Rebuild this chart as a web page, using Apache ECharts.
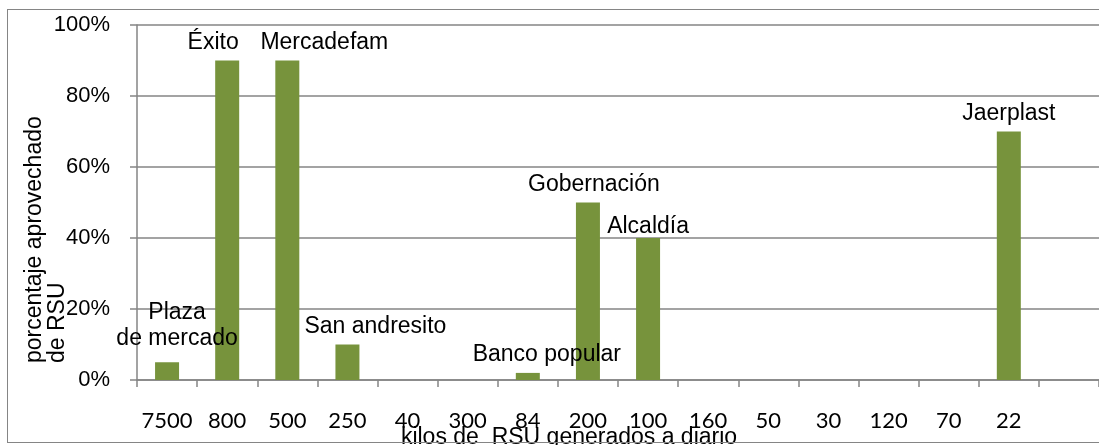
<!DOCTYPE html>
<html>
<head>
<meta charset="utf-8">
<script src="https://cdn.jsdelivr.net/npm/echarts@6/dist/echarts.min.js"></script>
<style>
  html, body { margin: 0; padding: 0; background: #fff; overflow: hidden; }
  #wrap { position: relative; width: 1099px; height: 445px; overflow: hidden; }
  #chart { width: 1099px; height: 445px; }
  /* marco exterior del gráfico; el borde derecho queda fuera de la imagen */
  #frame {
    position: absolute; left: 7px; top: 9px; width: 1200px; height: 432px;
    border: 1.5px solid #858585; pointer-events: none;
  }
</style>
</head>
<body>
<div id="wrap">
  <div id="chart"></div>
  <div id="frame"></div>
</div>
<script>
// kilos de RSU generados a diario (categorías del eje X)
var kilos = ['7500', '800', '500', '250', '40', '300', '84', '200', '100', '160', '50', '30', '120', '70', '22', ''];
// porcentaje aprovechado de RSU
var porcentaje = [0.05, 0.90, 0.90, 0.10, 0, 0, 0.02, 0.50, 0.40, 0, 0, 0, 0, 0, 0.70, 0];
// nombre de cada entidad
var entidades = ['Plaza\nde mercado', 'Éxito', 'Mercadefam', 'San andresito', '', '', 'Banco popular',
  'Gobernación', 'Alcaldía', '', '', '', '', '', 'Jaerplast', ''];

// desplazamiento manual de las etiquetas (como en el gráfico original)
var labelOffsets = [[10, -6], [-14, 0], [37, 0], [28, 0], [0, 0], [0, 0], [19, 0],
  [6, 0], [0, 7], [0, 0], [0, 0], [0, 0], [0, 0], [0, 0], [0, 0], [0, 0]];

var gray = '#858585';
var font = '"Liberation Sans", Arial, sans-serif';

var chart = echarts.init(document.getElementById('chart'));

var seriesData = [];
for (var i = 0; i < porcentaje.length; i++) {
  seriesData.push({
    value: porcentaje[i],
    name: entidades[i],
    label: { offset: labelOffsets[i] }
  });
}

var option = {
  animation: false,
  grid: { left: 137, top: 25, width: 969, height: 355, containLabel: false },
  xAxis: {
    type: 'category',
    data: kilos,
    boundaryGap: true,
    axisLine: { show: true, lineStyle: { color: gray, width: 1.5 } },
    axisTick: { show: true, length: 7, interval: 0, lineStyle: { color: gray, width: 1.5 } },
    axisLabel: { interval: 0, margin: 30, color: '#000', fontSize: 22, fontFamily: 'Lato, "Open Sans", sans-serif' },
    splitLine: { show: false }
  },
  yAxis: {
    type: 'value',
    min: 0,
    max: 1,
    interval: 0.2,
    axisLine: { show: true, lineStyle: { color: gray, width: 1.5 } },
    axisTick: { show: true, length: 7, lineStyle: { color: gray, width: 1.5 } },
    axisLabel: {
      margin: 27,
      color: '#000',
      fontSize: 22,
      fontFamily: font,
      formatter: function(v) { return Math.round(v * 100) + '%'; }
    },
    splitLine: { show: true, lineStyle: { color: gray, width: 1.5 } }
  },
  series: [{
    type: 'bar',
    data: seriesData,
    barWidth: 24,
    itemStyle: { color: '#77933C' },
    label: {
      show: true,
      position: 'top',
      distance: 5,
      color: '#000',
      fontSize: 23,
      fontFamily: font,
      lineHeight: 26,
      align: 'center',
      formatter: function(p) { return p.name; }
    }
  }],
  graphic: [
    {
      type: 'text',
      x: 46,
      y: 363,
      rotation: Math.PI / 2,
      style: {
        text: 'porcentaje aprovechado\nde RSU',
        font: '23px ' + font,
        fill: '#000',
        textAlign: 'left',
        textVerticalAlign: 'middle',
        lineHeight: 23
      }
    },
    {
      type: 'text',
      x: 569,
      y: 438,
      style: {
        text: 'kilos de  RSU generados a diario',
        font: '23px ' + font,
        fill: '#000',
        textAlign: 'center',
        textVerticalAlign: 'middle'
      }
    }
  ]
};

chart.setOption(option);
</script>
</body>
</html>
